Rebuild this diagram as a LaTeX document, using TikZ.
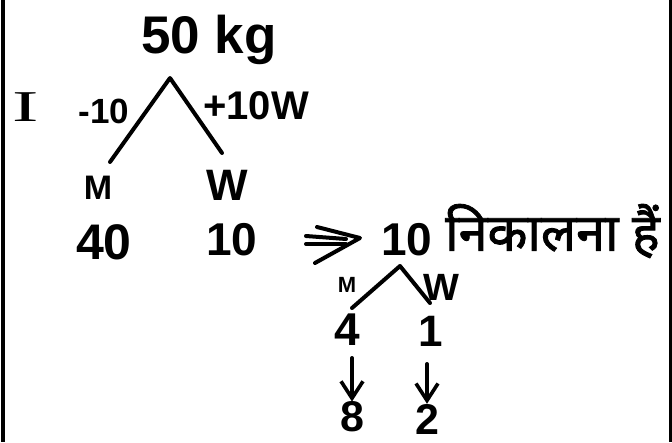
\documentclass[tikz,border=0pt]{standalone}
\usepackage{fontspec}
\setmainfont{Liberation Sans}
\newfontfamily\devafont[Script=Devanagari,FakeBold=1.6]{Noto Sans}
\newfontfamily\romanfont{Liberation Serif}
\usetikzlibrary{arrows.meta}
\newcommand{\fs}[1]{\fontsize{#1}{#1}\selectfont}
\begin{document}
\begin{tikzpicture}[x=1pt,y=-1pt,
  stroke/.style={line width=4pt, line cap=round, line join=round},
  lbl/.style={inner sep=0pt, anchor=center},
  downarrow/.style={stroke, -{Straight Barb[length=17pt,width=22pt,line width=3.6pt]}}]
\useasboundingbox (0,0) rectangle (672,442);
% frame edges
\draw[line width=3.5pt] (3,0) -- (3,442);
\draw[line width=3pt] (670,0) -- (670,442);

% first split
\node[lbl, font=\bfseries\fs{53}] (total) at (209,40) {50 kg};
\node[lbl, font=\romanfont\fs{44}] (stage) at (26,107) {\scalebox{1.8}[1]{I}};
\node[lbl, font=\bfseries\fs{35}] (minus) at (104,111) {-10};
\node[lbl, font=\bfseries\fs{40}] (plus) at (256,106) {+10W};
\coordinate (apexA) at (170,78);
\coordinate (legAm) at (110,162);
\coordinate (legAw) at (222,153);
\draw[stroke] (legAm) -- (apexA) -- (legAw);
\node[lbl, font=\bfseries\fs{34}] (menA) at (98,188) {M};
\node[lbl, font=\bfseries\fs{44}] (womenA) at (227,185) {W};
\node[lbl, font=\bfseries\fs{50}] (menval) at (104,242) {40};
\node[lbl, font=\bfseries\fs{46}] (womenval) at (232,240) {10};

% implication arrow
\coordinate (impTip) at (360,238);
\coordinate (impTop) at (317,227);
\coordinate (impBot) at (315,263);
\coordinate (impL1) at (306,236);
\coordinate (impR1) at (346,239);
\coordinate (impL2) at (306,244);
\coordinate (impR2) at (346,244);
\draw[stroke] (impTop) -- (impTip) -- (impBot);
\draw[stroke] (impL1) -- (impR1);
\draw[stroke] (impL2) -- (impR2);

% second split
\node[lbl, font=\bfseries\fs{46}] (removed) at (407,240) {10};
\node[lbl, anchor=west, font=\devafont\fs{52}] (note) at (445,231) {निकालना हैं};
\coordinate (apexB) at (400,266);
\coordinate (legBm) at (352,308);
\coordinate (legBw) at (430,303);
\draw[stroke] (legBm) -- (apexB) -- (legBw);
\node[lbl, font=\bfseries\fs{22}] (menB) at (347,285) {M};
\node[lbl, font=\bfseries\fs{38}] (womenB) at (441,287) {W};
\node[lbl, font=\bfseries\fs{46}] (menB4) at (347,330) {4};
\node[lbl, font=\bfseries\fs{44}] (womenB1) at (431,331) {1};
\node[lbl, font=\bfseries\fs{43}] (menB8) at (352,417) {8};
\node[lbl, font=\bfseries\fs{43}] (womenB2) at (427,419) {2};
\coordinate (arrMtop) at (352,358);
\coordinate (arrWtop) at (427,364);
\draw[downarrow] (arrMtop) -- (arrMtop |- menB8.north);
\draw[downarrow] (arrWtop) -- (arrWtop |- womenB2.north);
\end{tikzpicture}
\end{document}
